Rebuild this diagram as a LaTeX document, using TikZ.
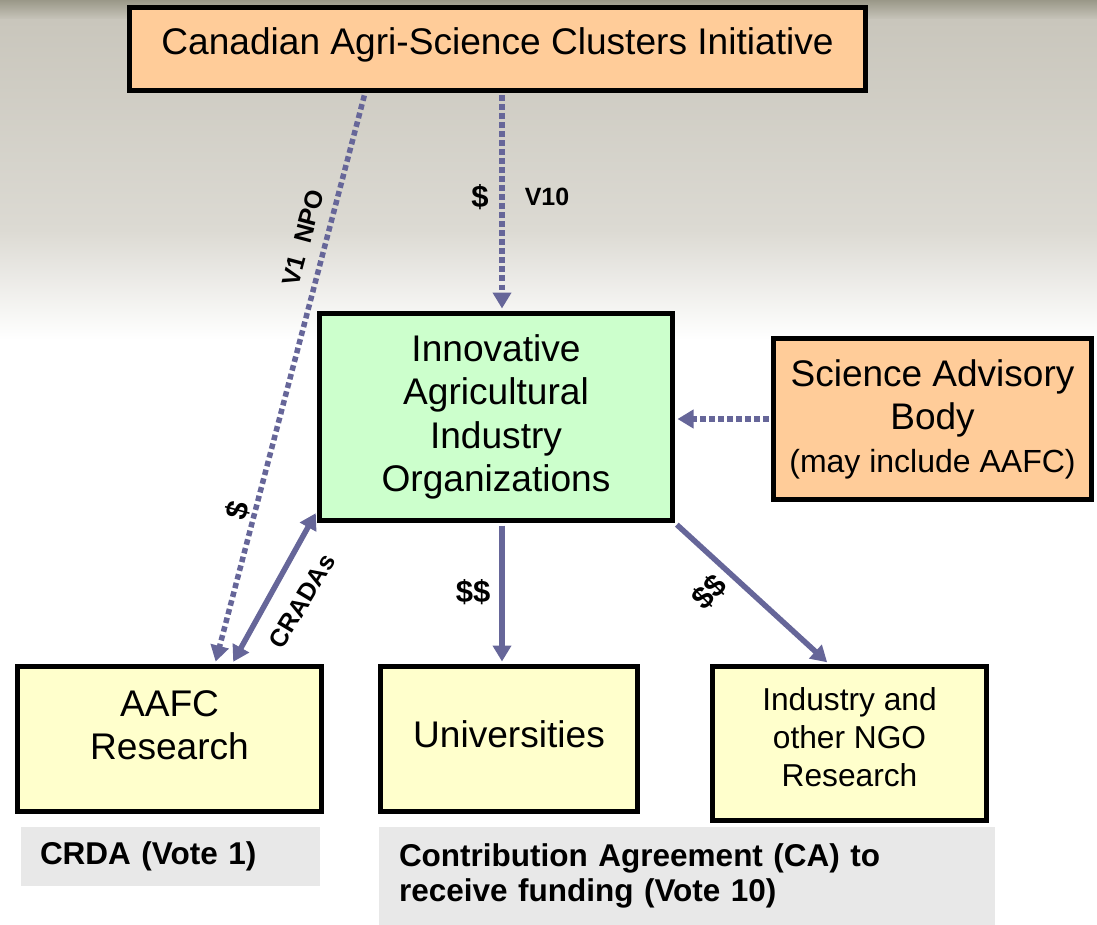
\documentclass[tikz,border=0pt]{standalone}
\usepackage{fontspec}
\setmainfont{Liberation Sans}
\usepackage{xcolor}
\usetikzlibrary{arrows.meta}

\definecolor{peach}{HTML}{FFCC99}
\definecolor{mint}{HTML}{CCFFCC}
\definecolor{cream}{HTML}{FFFFCC}
\definecolor{notegray}{HTML}{E8E8E8}
\definecolor{linkblue}{HTML}{666699}
\definecolor{bgtop}{HTML}{9A9888}
\definecolor{bgmid}{HTML}{C9C6BC}
\definecolor{bgmidtwo}{HTML}{DCDAD3}

\begin{document}
\begin{tikzpicture}[x=1pt,y=-1pt,
     box/.style={draw,rectangle,line width=5pt,align=center,inner sep=0pt},
     note/.style={fill=notegray,rectangle,align=left,inner ysep=0pt,
                  font=\bfseries\fontsize{31.5}{35}\selectfont},
     big/.style={font=\fontsize{37.1}{43.5}\selectfont},
     small/.style={font=\fontsize{31.7}{38}\selectfont},
     >={Triangle[length=16pt,width=18pt]},
     flow/.style={draw=linkblue,line width=5.5pt,shorten <=2.5pt,shorten >=2.5pt,->},
     twoway/.style={flow,<->},
     dotflow/.style={flow,dash pattern=on 5.5pt off 3.5pt},
     tag/.style={font=\bfseries\fontsize{25}{25}\selectfont},
     money/.style={font=\bfseries\fontsize{31}{31}\selectfont}
     ]
   % coordinates are pixels of the slide, y grows downwards
   \useasboundingbox (0,0) rectangle (1097,925);

   % faded field photo behind the top
   \shade[top color=bgtop,bottom color=bgmid] (0,0) rectangle (1097,20);
   \shade[top color=bgmid,bottom color=bgmidtwo] (0,20) rectangle (1097,230);
   \shade[top color=bgmidtwo,bottom color=white] (0,230) rectangle (1097,340);

   % boxes
   \node[box,big,fill=peach,minimum width=736pt,minimum height=83pt,text depth=15pt]
      (casci) at (497.5,49) {Canadian Agri-Science Clusters Initiative};
   \node[box,big,fill=mint,minimum width=353pt,minimum height=207pt]
      (iaio) at (496,417) {Innovative\\Agricultural\\Industry\\Organizations};
   \node[box,fill=peach,minimum width=318pt,minimum height=161pt,
         font=\fontsize{37}{43}\selectfont]
      (sab) at (932.5,419)
      {Science Advisory\\Body\\{\fontsize{32}{42}\selectfont(may include AAFC)}};

   \node[box,big,fill=cream,minimum width=304pt,minimum height=145pt,text depth=28pt]
      (aafc) at (169.5,739) {AAFC\\Research};
   \node[box,big,fill=cream,minimum width=257pt,minimum height=145pt,text depth=10pt]
      (univ) at (509,739) {Universities};
   \node[box,small,fill=cream,minimum width=274pt,minimum height=154pt,text depth=12pt]
      (ngo) at (849.5,743.5) {Industry and\\other NGO\\Research};

   \node[note,minimum height=59pt,text width=261pt,inner xsep=19pt]
      (crda) at (170.5,856.5) {CRDA (Vote 1)};
   \node[note,minimum height=98pt,text width=576pt,inner xsep=20pt]
      (ca) at (687,876) {Contribution Agreement (CA) to\\receive funding (Vote 10)};

   % funding lines
   \draw[dotflow] ([xshift=4.5pt]casci.south) -- ([xshift=6pt]iaio.north);
   \draw[dotflow] ([xshift=-132.5pt]casci.south) -- ([xshift=45.5pt]aafc.north);
   \draw[dotflow] (sab.west) -- (sab.west -| iaio.east);
   \draw[twoway] ([yshift=12pt]iaio.south west) -- ([xshift=62.5pt]aafc.north);
   \draw[flow] ([xshift=6pt]iaio.south) -- ([xshift=-7pt]univ.north);
   \draw[flow] (iaio.south east) -- ([xshift=-20.5pt]ngo.north);

   % line labels
   \node[money] (tendollar) at (480,197) {\$};
   \node[tag] (vten) at (547,197) {V10};
   \node[tag,rotate=75] (vone) at (303,238) {V1\ \ NPO};
   \node[money,rotate=75] (onedollar) at (238,510) {\$};
   \node[tag,rotate=59] (cradas) at (302,601) {CRADAs};
   \node[money] (unidollar) at (473,592) {\$\$};
   \node[money,rotate=45] (ngodollar) at (709,592) {\$\$};
\end{tikzpicture}
\end{document}
